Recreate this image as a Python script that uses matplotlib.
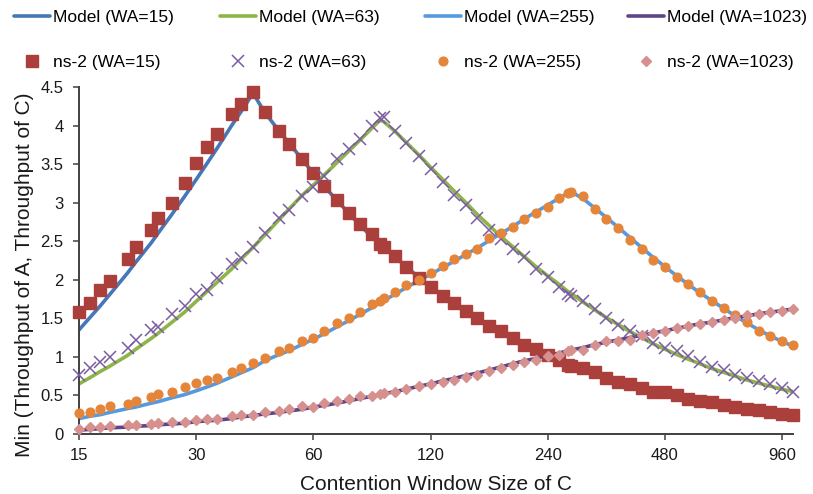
import matplotlib
matplotlib.use("Agg")
import matplotlib.pyplot as plt
from matplotlib.ticker import FixedLocator, NullLocator, FuncFormatter

plt.rcParams['font.family'] = ['Liberation Sans', 'DejaVu Sans']

# Contention window sizes of C (x axis, log2 scale)
cw = [15, 16, 17, 18, 20, 21, 23, 24, 26, 28, 30, 32, 34, 37, 39, 42, 45, 49, 52, 56,
      60, 64, 69, 74, 79, 85, 89, 91, 97, 104, 112, 120, 129, 138, 148, 158, 170, 182, 195, 209,
      224, 240, 257, 270, 276, 296, 317, 339, 364, 390, 418, 448, 480, 515, 551, 591, 633, 679, 728, 780,
      836, 896, 960, 1023]

# Analytical model
model_wa15 = [1.35, 1.51, 1.66, 1.81, 2.09, 2.23, 2.48, 2.61, 2.85, 3.08, 3.30, 3.51, 3.71, 4.00, 4.17, 4.42,
              4.17, 3.93, 3.77, 3.57, 3.38, 3.21, 3.03, 2.86, 2.71, 2.55, 2.46, 2.42, 2.30, 2.17, 2.03, 1.91,
              1.79, 1.69, 1.59, 1.50, 1.40, 1.32, 1.24, 1.16, 1.09, 1.02, 0.96, 0.91, 0.89, 0.84, 0.79, 0.74,
              0.69, 0.65, 0.61, 0.57, 0.53, 0.50, 0.47, 0.44, 0.41, 0.38, 0.36, 0.33, 0.31, 0.29, 0.27, 0.25]
model_wa63 = [0.65, 0.73, 0.81, 0.88, 1.02, 1.10, 1.24, 1.31, 1.45, 1.58, 1.72, 1.85, 1.97, 2.14, 2.26, 2.42,
              2.58, 2.78, 2.92, 3.09, 3.23, 3.36, 3.52, 3.67, 3.81, 3.97, 4.07, 4.05, 3.93, 3.78, 3.62, 3.46,
              3.30, 3.15, 3.00, 2.85, 2.70, 2.56, 2.43, 2.30, 2.17, 2.05, 1.94, 1.85, 1.82, 1.71, 1.61, 1.51,
              1.42, 1.33, 1.25, 1.17, 1.10, 1.03, 0.97, 0.91, 0.85, 0.80, 0.75, 0.70, 0.66, 0.62, 0.58, 0.55]
model_wa255 = [0.20, 0.23, 0.25, 0.28, 0.33, 0.35, 0.40, 0.42, 0.47, 0.51, 0.56, 0.61, 0.66, 0.74, 0.79, 0.86,
               0.95, 1.03, 1.08, 1.16, 1.23, 1.30, 1.39, 1.47, 1.55, 1.64, 1.70, 1.73, 1.81, 1.90, 1.99, 2.07,
               2.16, 2.24, 2.33, 2.41, 2.51, 2.60, 2.69, 2.79, 2.88, 2.97, 3.06, 3.12, 3.14, 3.05, 2.93, 2.81,
               2.68, 2.55, 2.42, 2.29, 2.17, 2.05, 1.94, 1.83, 1.73, 1.63, 1.53, 1.44, 1.35, 1.27, 1.20, 1.14]
model_wa1023 = [0.05, 0.06, 0.07, 0.08, 0.09, 0.10, 0.11, 0.12, 0.13, 0.14, 0.16, 0.17, 0.18, 0.20, 0.22, 0.24,
                0.26, 0.28, 0.30, 0.32, 0.35, 0.37, 0.40, 0.43, 0.46, 0.49, 0.51, 0.52, 0.55, 0.58, 0.62, 0.65,
                0.69, 0.72, 0.76, 0.79, 0.83, 0.87, 0.91, 0.95, 0.98, 1.02, 1.05, 1.08, 1.09, 1.12, 1.16, 1.19,
                1.22, 1.25, 1.28, 1.31, 1.34, 1.37, 1.40, 1.43, 1.45, 1.48, 1.51, 1.53, 1.56, 1.58, 1.60, 1.62]

# ns-2 simulation results
ns2_wa15 = [1.58, 1.70, 1.87, 1.99, 2.27, 2.43, 2.65, 2.80, 3.00, 3.26, 3.51, 3.72, 3.89, 4.15, 4.28, 4.43,
            4.17, 3.93, 3.76, 3.56, 3.38, 3.21, 3.04, 2.87, 2.72, 2.60, 2.47, 2.43, 2.31, 2.16, 2.02, 1.91,
            1.79, 1.70, 1.60, 1.50, 1.40, 1.33, 1.25, 1.16, 1.10, 1.02, 0.96, 0.90, 0.88, 0.85, 0.80, 0.73,
            0.68, 0.65, 0.60, 0.55, 0.54, 0.51, 0.46, 0.43, 0.41, 0.37, 0.35, 0.33, 0.31, 0.29, 0.26, 0.25]
ns2_wa63 = [0.77, 0.86, 0.93, 1.00, 1.12, 1.22, 1.35, 1.39, 1.55, 1.66, 1.81, 1.87, 2.02, 2.20, 2.28, 2.43,
            2.61, 2.80, 2.91, 3.08, 3.20, 3.34, 3.56, 3.69, 3.83, 3.99, 4.10, 4.11, 3.93, 3.77, 3.60, 3.44,
            3.27, 3.10, 2.97, 2.80, 2.65, 2.53, 2.40, 2.29, 2.14, 2.03, 1.91, 1.81, 1.79, 1.72, 1.62, 1.51,
            1.42, 1.33, 1.27, 1.18, 1.11, 1.07, 1.01, 0.93, 0.87, 0.83, 0.77, 0.73, 0.69, 0.65, 0.60, 0.55]
ns2_wa255 = [0.27, 0.29, 0.33, 0.36, 0.39, 0.43, 0.48, 0.52, 0.55, 0.61, 0.66, 0.70, 0.73, 0.80, 0.86, 0.92,
             0.98, 1.07, 1.12, 1.20, 1.25, 1.34, 1.44, 1.50, 1.58, 1.68, 1.72, 1.76, 1.84, 1.93, 2.00, 2.09,
             2.18, 2.27, 2.34, 2.40, 2.54, 2.61, 2.68, 2.79, 2.86, 2.95, 3.06, 3.13, 3.14, 3.08, 2.92, 2.79,
             2.67, 2.52, 2.40, 2.26, 2.16, 2.04, 1.95, 1.84, 1.73, 1.64, 1.54, 1.45, 1.34, 1.27, 1.21, 1.15]
ns2_wa1023 = [0.07, 0.09, 0.09, 0.10, 0.12, 0.12, 0.13, 0.14, 0.16, 0.16, 0.18, 0.20, 0.20, 0.23, 0.24, 0.25,
              0.28, 0.30, 0.33, 0.36, 0.35, 0.40, 0.43, 0.46, 0.49, 0.49, 0.52, 0.53, 0.55, 0.59, 0.62, 0.65,
              0.68, 0.70, 0.74, 0.77, 0.82, 0.86, 0.89, 0.94, 0.96, 1.01, 1.03, 1.07, 1.09, 1.09, 1.15, 1.20,
              1.21, 1.22, 1.28, 1.31, 1.34, 1.37, 1.40, 1.43, 1.45, 1.48, 1.51, 1.54, 1.56, 1.58, 1.59, 1.62]

x_ticks = [15, 30, 60, 120, 240, 480, 960]
y_ticks = [0, 0.5, 1, 1.5, 2, 2.5, 3, 3.5, 4, 4.5]

W, H = 813, 494
fig = plt.figure(figsize=(W / 100, H / 100), dpi=100)
ax = fig.add_axes([79 / W, 1 - 434 / H, (793 - 79) / W, (434 - 87) / H])

lw = 2.6
l1, = ax.plot(cw, model_wa15, color='#4677B8', lw=lw, zorder=2, solid_capstyle='round')
l2, = ax.plot(cw, model_wa63, color='#8DB548', lw=lw, zorder=2, solid_capstyle='round')
l3, = ax.plot(cw, model_wa255, color='#559AE0', lw=lw, zorder=2, solid_capstyle='round')
l4, = ax.plot(cw, model_wa1023, color='#5E4588', lw=lw, zorder=2, solid_capstyle='round')

m1, = ax.plot(cw, ns2_wa15, ls='none', marker='s', ms=8.0, color='#AA3F3C', mec='#AA3F3C', zorder=3, clip_on=False)
m2, = ax.plot(cw, ns2_wa63, ls='none', marker='x', ms=9, mew=1.1, color='#7B5BA3', zorder=3, clip_on=False)
m3, = ax.plot(cw, ns2_wa255, ls='none', marker='o', ms=6.3, color='#E5853A', mec='#E5853A', zorder=3, clip_on=False)
m4, = ax.plot(cw, ns2_wa1023, ls='none', marker='D', ms=5.6, color='#D6918F', mec='#D6918F', zorder=3, clip_on=False)

ax.set_xscale('log', base=2)
ax.set_xlim(15, 1024)
ax.set_ylim(0, 4.5)
ax.xaxis.set_major_locator(FixedLocator(x_ticks))
ax.xaxis.set_minor_locator(NullLocator())
ax.xaxis.set_major_formatter(FuncFormatter(lambda v, p: f"{v:g}"))
ax.yaxis.set_major_locator(FixedLocator(y_ticks))
ax.yaxis.set_major_formatter(FuncFormatter(lambda v, p: f"{v:g}"))

for s in ('top', 'right'):
    ax.spines[s].set_visible(False)
for s in ('left', 'bottom'):
    ax.spines[s].set_color('#404040')
    ax.spines[s].set_linewidth(1.4)
ax.tick_params(axis='both', direction='out', length=4, width=1.1, color='#404040',
               labelsize=12, labelcolor='#1a1a1a')
ax.tick_params(axis='y', pad=7)
ax.tick_params(axis='x', pad=6)

fig.text(436 / W, 1 - 484 / H, 'Contention Window Size of C', ha='center', va='center',
         fontsize=15, color='#1a1a1a')
fig.text(25 / W, 1 - 275 / H, 'Min (Throughput of A, Throughput of C)', ha='center', va='center',
         rotation=90, fontsize=15, color='#1a1a1a')

# Legend: four columns, model line on top row, ns-2 marker below
col_x = [14, 220, 425, 628]
pairs = [(l1, m1, '15'), (l2, m2, '63'), (l3, m3, '255'), (l4, m4, '1023')]
for x0, (ln, mk, wa) in zip(col_x, pairs):
    fig.legend([ln, mk], [f'Model (WA={wa})', f'ns-2 (WA={wa})'],
               loc='center left', bbox_to_anchor=(x0 / W, 1 - 40 / H),
               frameon=False, fontsize=12.5, handlelength=2.1, handletextpad=0.15,
               labelspacing=1.75, borderpad=0, borderaxespad=0, numpoints=1)

fig.savefig('out.png', dpi=100)
